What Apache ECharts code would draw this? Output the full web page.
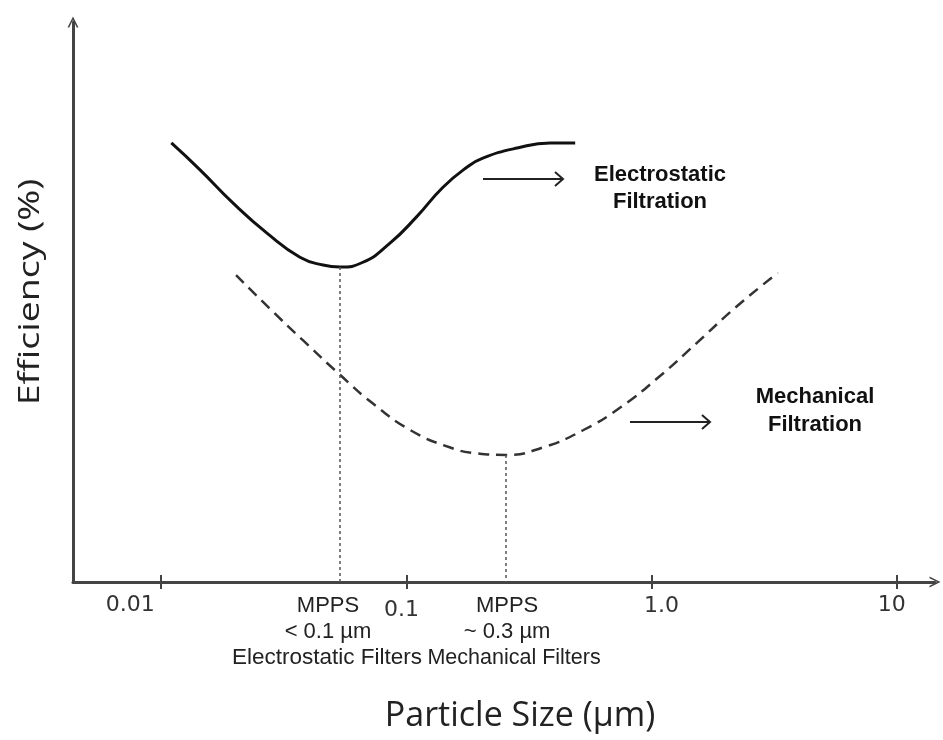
<!DOCTYPE html>
<html>
<head>
<meta charset="utf-8">
<script src="https://cdn.jsdelivr.net/npm/echarts@6/dist/echarts.min.js"></script>
<style>
  html, body { margin: 0; padding: 0; background: #ffffff; }
  #chart { width: 943px; height: 740px; }
</style>
</head>
<body>
<div id="chart"></div>
<script>
// Electrostatic filtration efficiency curve (particle size in µm, efficiency in relative %)
const sizeElectro = [0.0110, 0.0144, 0.0196, 0.0270, 0.0368, 0.0457, 0.0536, 0.0665, 0.0857, 0.110, 0.141, 0.177, 0.205, 0.283, 0.386, 0.488];
const effElectro  = [78.4, 73.6, 67.7, 62.3, 58.0, 56.6, 56.25, 57.1, 60.5, 65.2, 70.5, 74.1, 75.7, 77.5, 78.4, 78.4];

// Mechanical filtration efficiency curve
const sizeMech = [0.0202, 0.0276, 0.0382, 0.0536, 0.0724, 0.104, 0.149, 0.192, 0.255, 0.364, 0.525, 0.750, 1.07, 1.53, 2.21, 3.27];
const effMech  = [54.8, 48.9, 43.0, 37.0, 32.0, 27.1, 24.1, 23.0, 22.7, 24.1, 27.1, 31.25, 36.6, 42.7, 49.1, 55.2];

// Most penetrating particle sizes (electrostatic, mechanical)
const mppsSize = [0.0536, 0.255];
const mppsEff  = [56.25, 22.7];
const mppsText = [
  ['MPPS', '< 0.1 µm', 'Electrostatic Filters'],
  ['MPPS', '~ 0.3 µm', 'Mechanical Filters']
];

// Decade ticks on the particle size axis
const tickSizes  = [0.01, 0.1, 1, 10];
const tickLabels = ['0.01', '0.1', '1.0', '10'];

const lg = v => Math.log10(v);
const tickPos = tickSizes.map(lg);
const mppsPos = mppsSize.map(lg);
const labelPos = tickPos.concat(mppsPos).sort((a, b) => a - b);

const chart = echarts.init(document.getElementById('chart'), null, { renderer: 'canvas' });

const arrowPath = 'path://M0,10 L5,0 L10,10 L8.4,10 L5,3 L1.6,10 Z';
const axisColor = '#444';

function labelFor(value) {
  for (let i = 0; i < tickPos.length; i++) {
    if (Math.abs(value - tickPos[i]) < 1e-6) return '{d' + i + '|' + tickLabels[i] + '}';
  }
  for (let i = 0; i < mppsPos.length; i++) {
    if (Math.abs(value - mppsPos[i]) < 1e-6) {
      return mppsText[i].map((t, j) => '{m' + i + (j === 2 ? 'b' : '') + '|' + t + '}').join('\n');
    }
  }
  return '';
}

const tickFont = { fontFamily: 'DejaVu Sans', fontSize: 22, color: '#333', lineHeight: 24 };
const mppsFont = { fontFamily: 'Liberation Sans', fontSize: 22, color: '#222', lineHeight: 26 };

const option = {
  backgroundColor: '#ffffff',
  animation: false,
  grid: { left: 73, right: 8, top: 22, bottom: 158, containLabel: false, outerBoundsMode: 'none' },
  xAxis: [
    {
      type: 'value',
      min: -2.3597,
      max: 1.1558,
      name: 'Particle Size (µm)',
      nameLocation: 'middle',
      nameGap: 114,
      nameTextStyle: { fontFamily: 'Open Sans', fontSize: 34, color: '#222', lineHeight: 40, padding: [0, 0, 0, 32] },
      splitLine: { show: false },
      axisLine: {
        show: true,
        onZero: false,
        symbol: ['none', arrowPath],
        symbolSize: [15, 11],
        lineStyle: { color: axisColor, width: 3 }
      },
      axisTick: { show: true, customValues: tickPos, length: 7, lineStyle: { color: axisColor, width: 2 } },
      axisLabel: {
        show: true,
        hideOverlap: false,
        showMinLabel: true,
        showMaxLabel: true,
        customValues: labelPos,
        margin: 11,
        formatter: labelFor,
        rich: {
          d0: Object.assign({}, tickFont, { padding: [0, 62, 0, 0] }),
          d1: Object.assign({}, tickFont, { padding: [10, 10, 0, 0] }),
          d2: Object.assign({}, tickFont, { padding: [2, 0, 0, 20] }),
          d3: Object.assign({}, tickFont, { padding: [0, 10, 0, 0] }),
          m0: Object.assign({}, mppsFont, { padding: [0, 24, 0, 0] }),
          m0b: Object.assign({}, mppsFont, { fontSize: 22.5, padding: [0, 26, 0, 0] }),
          m1: Object.assign({}, mppsFont, { padding: [0, 0, 0, 2] }),
          m1b: Object.assign({}, mppsFont, { fontSize: 21.5, padding: [0, 0, 0, 16] })
        }
      }
    },
    {
      // inner half of the decade tick marks
      type: 'value',
      min: -2.3597,
      max: 1.1558,
      position: 'bottom',
      splitLine: { show: false },
      axisLine: { show: false, onZero: false },
      axisLabel: { show: false },
      axisTick: { show: true, inside: true, customValues: tickPos, length: 7, lineStyle: { color: axisColor, width: 2 } }
    }
  ],
  yAxis: {
    type: 'value',
    position: 'left',
    min: 0,
    max: 100,
    splitLine: { show: false },
    axisTick: { show: false },
    axisLabel: { show: false },
    axisLine: {
      show: true,
      onZero: false,
      symbol: ['none', arrowPath],
      symbolSize: [15, 11],
      lineStyle: { color: axisColor, width: 3 }
    }
  },
  series: [
    {
      name: 'Electrostatic Filtration',
      type: 'line',
      smooth: 0.5,
      symbol: 'none',
      data: sizeElectro.map((s, i) => [lg(s), effElectro[i]]),
      lineStyle: { color: '#111', width: 3 },
      markLine: {
        silent: true,
        symbol: 'none',
        label: { show: false },
        lineStyle: { color: '#555', width: 1.5, type: [3, 3] },
        data: [[{ coord: [mppsPos[0], mppsEff[0]] }, { coord: [mppsPos[0], 0] }]]
      }
    },
    {
      name: 'Mechanical Filtration',
      type: 'line',
      smooth: 0.5,
      symbol: 'none',
      data: sizeMech.map((s, i) => [lg(s), effMech[i]]),
      lineStyle: { color: '#333', width: 2.5, type: [11, 7] },
      markLine: {
        silent: true,
        symbol: 'none',
        label: { show: false },
        lineStyle: { color: '#555', width: 1.5, type: [3, 3] },
        data: [[{ coord: [mppsPos[1], mppsEff[1]] }, { coord: [mppsPos[1], 0] }]]
      }
    }
  ],
  graphic: [
    {
      type: 'text',
      x: 30, y: 292,
      rotation: Math.PI / 2,
      scaleX: 1.25,
      style: {
        text: 'Efficiency (%)',
        fontFamily: 'Open Sans',
        fontSize: 30,
        fill: '#222',
        align: 'center',
        verticalAlign: 'middle'
      }
    },
    {
      type: 'text',
      x: 660, y: 188.5,
      style: {
        text: 'Electrostatic\nFiltration',
        fontFamily: 'Liberation Sans',
        fontWeight: 'bold',
        fontSize: 22,
        lineHeight: 27,
        fill: '#111',
        align: 'center',
        verticalAlign: 'middle'
      }
    },
    {
      type: 'text',
      x: 815, y: 411,
      style: {
        text: 'Mechanical\nFiltration',
        fontFamily: 'Liberation Sans',
        fontWeight: 'bold',
        fontSize: 22,
        lineHeight: 28,
        fill: '#111',
        align: 'center',
        verticalAlign: 'middle'
      }
    },
    {
      type: 'polyline',
      shape: { points: [[483, 179], [562, 179]] },
      style: { stroke: '#222', lineWidth: 2, fill: null }
    },
    {
      type: 'polyline',
      shape: { points: [[555, 172], [563, 179], [555, 186]] },
      style: { stroke: '#222', lineWidth: 2, fill: null }
    },
    {
      type: 'polyline',
      shape: { points: [[630, 422], [709, 422]] },
      style: { stroke: '#222', lineWidth: 2, fill: null }
    },
    {
      type: 'polyline',
      shape: { points: [[702, 415], [710, 422], [702, 429]] },
      style: { stroke: '#222', lineWidth: 2, fill: null }
    }
  ]
};

chart.setOption(option);
</script>
</body>
</html>
